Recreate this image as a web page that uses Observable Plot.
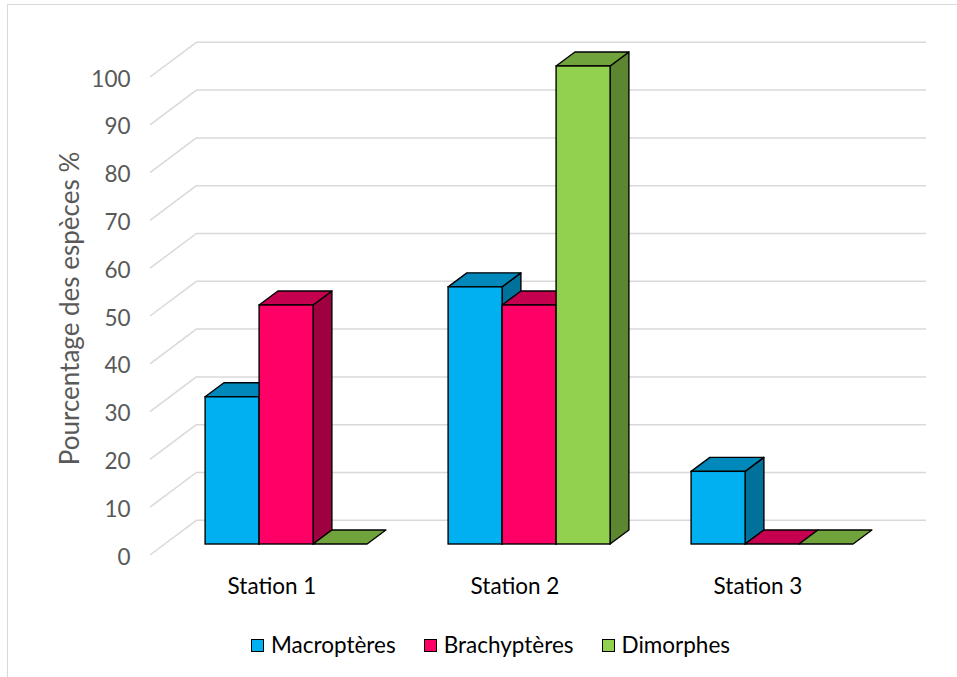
<!DOCTYPE html>
<html lang="fr">
<head>
<meta charset="utf-8">
<script src="https://cdn.jsdelivr.net/npm/d3@7"></script>
<script src="https://cdn.jsdelivr.net/npm/@observablehq/plot@0.6"></script>
<style>
  html, body { margin: 0; padding: 0; background: #fff; overflow: hidden; }
  #wrap { position: relative; width: 957px; height: 677px; overflow: hidden; font-family: Lato, "Open Sans", sans-serif; }
  #frame { position: absolute; left: 7px; top: 4px; width: 1200px; height: 1200px;
           border-left: 1.5px solid #d9d9d9; border-top: 1.5px solid #d9d9d9; }
  #chart { position: absolute; left: 0; top: 0; }
  #legend { position: absolute; left: 251px; top: 632px; display: flex; gap: 28px;
            font-size: 22.5px; color: #000; line-height: 26px; }
  #legend .item { display: flex; align-items: center; }
  #legend .sw { width: 11px; height: 11px; border: 1.8px solid #000; margin-right: 7px; }
</style>
</head>
<body>
<div id="wrap">
  <div id="frame"></div>
  <div id="chart"></div>
  <div id="legend"></div>
</div>
<script>
// Stations and wing-form categories
const stations = ["Station 1", "Station 2", "Station 3"];
const series = ["Macroptères", "Brachyptères", "Dimorphes"];

// Percentage of species per station, one array per category
const macropteres = [30.8, 53.8, 15.2];
const brachypteres = [50, 50, 0];
const dimorphes = [0, 100, 0];
const values = [macropteres, brachypteres, dimorphes];

// Value-axis ticks
const yTicks = [0, 10, 20, 30, 40, 50, 60, 70, 80, 90, 100];

// Face colours (front / top / side) for each category
const frontColors = ["#00B0F0", "#FF0066", "#92D050"];
const topColors = ["#0088BA", "#C4004F", "#71A33C"];
const sideColors = ["#00719B", "#9E0040", "#5C8630"];

// Oblique depth offsets in pixels, relative to the bar front plane
const BAR_DEPTH = {dx: 18.8, dy: -14};   // bar front -> bar back
const FLOOR_FRONT = {dx: -14.6, dy: 11}; // bar front -> floor front edge
const WALL = {dx: 32.4, dy: -24.2};      // bar front -> back wall

const rows = series.flatMap((s, j) =>
  stations.map((st, i) => ({station: st, series: s, j, value: values[j][i]}))
);

const poly = (pts) => "M" + pts.map((p) => p.join(",")).join("L") + "Z";

// Diagonal grid segments on the side wall, from the floor front to the back wall
function wallEdges(index, {y}, values, {marginLeft}) {
  const g = d3.create("svg:g").attr("stroke", "#d9d9d9").attr("stroke-width", 1.5).attr("fill", "none");
  for (const t of yTicks) {
    g.append("line")
      .attr("x1", marginLeft + FLOOR_FRONT.dx).attr("y1", y(t) + FLOOR_FRONT.dy)
      .attr("x2", marginLeft + WALL.dx).attr("y2", y(t) + WALL.dy);
  }
  return g.node();
}

// Side and top faces of every bar, drawn left to right
function barFaces(index, {x, y}) {
  const g = d3.create("svg:g").attr("stroke", "#000").attr("stroke-width", 1.4).attr("stroke-linejoin", "round");
  const w = x.bandwidth() / series.length;
  stations.forEach((st, i) => {
    series.forEach((s, j) => {
      const v = values[j][i];
      const x0 = x(st) + j * w, x1 = x0 + w, yt = y(v), yb = y(0);
      const {dx, dy} = BAR_DEPTH;
      if (v > 0) {
        g.append("path").attr("fill", sideColors[j])
          .attr("d", poly([[x1, yt], [x1 + dx, yt + dy], [x1 + dx, yb + dy], [x1, yb]]));
      }
      g.append("path").attr("fill", topColors[j])
        .attr("d", poly([[x0, yt], [x1, yt], [x1 + dx, yt + dy], [x0 + dx, yt + dy]]));
    });
  });
  return g.node();
}

const W = 957, H = 610;
const marginLeft = 164.6, marginRight = 63.4;
const band = ((W - marginLeft - marginRight) / stations.length) * (2 / 3);
const barW = band / series.length;

const chart = Plot.plot({
  width: W,
  height: H,
  marginLeft,
  marginRight,
  marginTop: 66,
  marginBottom: 66,
  x: {domain: stations, paddingInner: 1 / 3, paddingOuter: 1 / 6, round: false, axis: null},
  y: {domain: [0, 100], axis: null},
  style: {fontFamily: "Lato, 'Open Sans', sans-serif", fontSize: "22.5px", overflow: "visible", background: "transparent"},
  marks: [
    Plot.ruleY(yTicks, {dx: WALL.dx, dy: WALL.dy, stroke: "#d9d9d9", strokeWidth: 1.5}),
    wallEdges,
    barFaces,
    ...series.map((s, j) =>
      Plot.barY(rows.filter((d) => d.j === j), {
        x: "station",
        y: "value",
        fill: frontColors[j],
        stroke: "#000",
        strokeWidth: 1.4,
        insetLeft: j * barW,
        insetRight: (series.length - 1 - j) * barW
      })
    ),
    Plot.text(yTicks, {y: (d) => d, frameAnchor: "left", textAnchor: "end", lineAnchor: "middle", dx: -34.6, dy: 12.8, fill: "#595959", fontSize: 22.5}),
    Plot.text(stations, {x: (d) => d, frameAnchor: "bottom", lineAnchor: "middle", dx: FLOOR_FRONT.dx, dy: 42, fill: "#000", fontSize: 22.5}),
    Plot.text(["Pourcentage des espèces %"], {frameAnchor: "left", textAnchor: "middle", lineAnchor: "middle", rotate: -90, dx: -94, dy: 3, fill: "#595959", fontSize: 26})
  ]
});
document.getElementById("chart").appendChild(chart);

// Legend
const legend = d3.select("#legend");
series.forEach((s, j) => {
  const item = legend.append("div").attr("class", "item");
  item.append("div").attr("class", "sw").style("background", frontColors[j]);
  item.append("span").text(s);
});
</script>
</body>
</html>
